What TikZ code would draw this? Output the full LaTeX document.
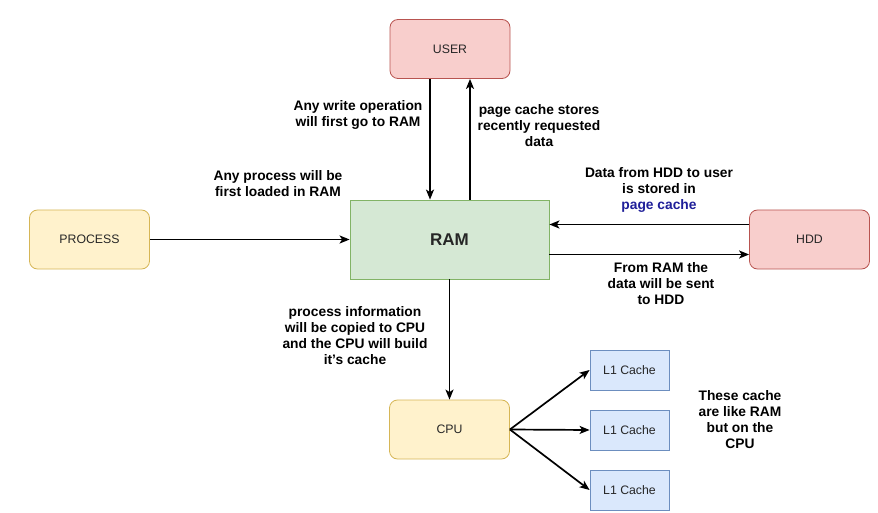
\documentclass[tikz,border=0pt]{standalone}
\usepackage{fontspec}
\setmainfont{Liberation Sans}
\usepackage{xcolor}
\usetikzlibrary{arrows.meta}

\definecolor{redfill}{HTML}{F8CECC}
\definecolor{redline}{HTML}{B85450}
\definecolor{greenfill}{HTML}{D5E8D4}
\definecolor{greenline}{HTML}{82B366}
\definecolor{yellowfill}{HTML}{FFF2CC}
\definecolor{yellowline}{HTML}{D6B656}
\definecolor{bluefill}{HTML}{DAE8FC}
\definecolor{blueline}{HTML}{6C8EBF}
\definecolor{linkblue}{HTML}{1F1F99}

\begin{document}
\begin{tikzpicture}[x=1pt, y=-1pt,
    box/.style={draw, line width=0.8pt, minimum width=120pt, minimum height=59pt,
        rounded corners=8pt, font=\fontsize{12.3}{14}\selectfont, text=black!85},
    flow/.style={-{Stealth[length=10pt,width=8pt,inset=2.5pt]}, line width=1.7pt},
    note/.style={align=center, inner sep=0pt, font=\fontsize{13.8}{16}\selectfont\bfseries}]
    \useasboundingbox (0, 0) rectangle (878, 513);

    \node[box, fill=redfill, draw=redline] (user) at (450, 49) {USER};
    \node[box, fill=redfill, draw=redline] (hdd) at (809.5, 239.5) {HDD};
    \node[box, fill=yellowfill, draw=yellowline] (process) at (89.5, 239.5) {PROCESS};
    \node[box, fill=yellowfill, draw=yellowline] (cpu) at (449.5, 429.5) {CPU};
    \node[box, fill=greenfill, draw=greenline, rounded corners=0pt, minimum width=199pt,
        minimum height=79pt, font=\fontsize{17}{19}\selectfont\bfseries] (ram) at (449.5, 239.5) {RAM};

    \foreach \i/\y in {1/370, 2/430, 3/490} {
        \node[box, fill=bluefill, draw=blueline, rounded corners=0pt, minimum width=79pt,
            minimum height=40pt] (cache\i) at (629.5, \y) {L1 Cache};
    }

    \draw[flow] ([xshift=-20pt]user.south) -- ([xshift=-20pt]user.south |- ram.north);
    \draw[flow] ([xshift=20pt]user.south |- ram.north) -- ([xshift=20pt]user.south);
    \draw[flow] (process) -- (ram);
    \draw[flow] ([yshift=15pt]hdd.west) -- ([yshift=15pt]hdd.west -| ram.east);
    \draw[flow] ([yshift=-15pt]hdd.west -| ram.east) -- ([yshift=-15pt]hdd.west);
    \draw[flow] (ram) -- (cpu);
    \foreach \i in {1, 2, 3} {
        \draw[flow] (cpu.east) -- (cache\i.west);
    }

    \node[note] (writenote) at (358, 115) {Any write operation\\will first go to RAM};
    \node[note] (pagenote) at (539, 126) {page cache stores\\recently requested\\data};
    \node[note] (loadnote) at (278, 184) {Any process will be\\first loaded in RAM};
    \node[note] (hddnote) at (659, 190) {Data from HDD to user\\is stored in\\\textcolor{linkblue}{page cache}};
    \node[note] (sendnote) at (661, 284) {From RAM the\\data will be sent\\to HDD};
    \node[note] (cpunote) at (355, 336) {process information\\will be copied to CPU\\and the CPU will build\\it's cache};
    \node[note] (cachenote) at (740, 420) {These cache\\are like RAM\\but on the\\CPU};
\end{tikzpicture}
\end{document}
